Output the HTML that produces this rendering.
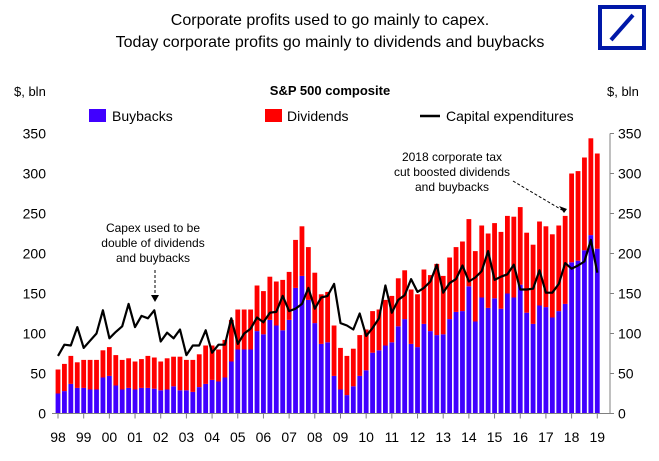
<!DOCTYPE html>
<html><head><meta charset="utf-8"><style>
body{margin:0;background:#fff;}
svg text{font-family:"Liberation Sans",Arial,sans-serif;}
</style></head><body>
<svg id="chart" width="659" height="456" viewBox="0 0 659 456" xmlns="http://www.w3.org/2000/svg">
<text x="330" y="25" font-size="16" text-anchor="middle">Corporate profits used to go mainly to capex.</text>
<text x="330" y="47" font-size="16" text-anchor="middle">Today corporate profits go mainly to dividends and buybacks</text>
<g>
<rect x="600" y="7" width="44" height="41" fill="none" stroke="#0018a8" stroke-width="4"/>
<line x1="611" y1="40" x2="633" y2="15" stroke="#0018a8" stroke-width="4"/>
</g>
<text x="14" y="96" font-size="13">$, bln</text>
<text x="607" y="96" font-size="13">$, bln</text>
<text x="330" y="95" font-size="13" font-weight="bold" text-anchor="middle">S&amp;P 500 composite</text>
<g>
<g><rect x="89" y="109" width="17" height="13" fill="#4000ff"/><text x="112" y="121" font-size="14">Buybacks</text></g>
<g><rect x="265" y="109" width="17" height="13" fill="#ff0000"/><text x="287" y="121" font-size="14">Dividends</text></g>
<g><line x1="420" y1="116" x2="440" y2="116" stroke="#000" stroke-width="2.5"/><text x="446" y="121" font-size="14">Capital expenditures</text></g>
</g>
<g id="plot"></g>
<g font-size="12" text-anchor="middle">
<text x="153" y="232">Capex used to be</text>
<text x="153" y="247">double of dividends</text>
<text x="153" y="262">and buybacks</text>
<line x1="155" y1="270" x2="155" y2="296" stroke="#000" stroke-dasharray="3,2"/>
<polygon points="151,295 159,295 155,302" fill="#000"/>
</g>
<g font-size="12" text-anchor="middle">
<text x="452" y="161">2018 corporate tax</text>
<text x="452" y="176">cut boosted dividends</text>
<text x="452" y="191">and buybacks</text>
<line x1="513" y1="181" x2="562" y2="210" stroke="#000" stroke-dasharray="3,2"/>
<polygon points="559,206 564,213 567,209" fill="#000"/>
</g>
</svg>
<script>
const years = ["98","99","00","01","02","03","04","05","06","07","08","09","10","11","12","13","14","15","16","17","18","19"];
const yTicks = [0,50,100,150,200,250,300,350];
const buybacks = [25,28,37,32, 32,30,30,45, 47,35,30,32, 30,32,32,31, 29,30,34,29, 29,27,33,37, 42,40,45,65, 80,80,80,103, 99,117,110,104, 117,157,172,142, 113,87,89,47, 30,23,34,47, 54,76,79,85, 89,109,118,87, 83,112,103,98, 99,118,127,128, 159,115,145,132, 144,131,150,145, 161,126,112,135, 133,120,128,137, 189,191,204,223, 206];
const dividends = [30,34,35,32, 35,37,37,34, 36,38,37,37, 35,36,40,39, 36,39,37,42, 38,40,41,48, 43,40,47,52, 50,50,50,57, 54,54,55,63, 60,60,62,66, 63,62,63,63, 52,49,47,51, 51,52,51,57, 58,60,61,68, 66,68,70,89, 73,77,81,87, 84,88,90,93, 94,96,97,101, 97,100,99,105, 101,104,107,110, 111,112,116,121, 119];
const capex = [72,86,85,108, 82,91,100,129, 94,102,109,137, 108,122,119,129, 90,101,94,105, 73,85,85,104, 76,86,86,119, 87,100,106,120, 114,126,127,147, 128,131,137,157, 131,145,147,162, 113,110,105,125, 97,107,119,160, 126,142,148,168, 152,157,165,186, 151,163,168,185, 165,170,178,203, 167,171,174,186, 155,155,156,179, 151,151,162,188, 181,185,190,217, 176];

const NS="http://www.w3.org/2000/svg";
const plot=document.getElementById('plot');
const x0=58, step=6.42, y0=413.5, k=0.8, bw=4.8, left=52, right=610;
const X=i=>x0+i*step;
const Y=v=>y0-v*k;
function mk(tag,attrs){const e=document.createElementNS(NS,tag);for(const a in attrs)e.setAttribute(a,attrs[a]);plot.appendChild(e);return e;}

yTicks.forEach(t=>{
  const l=mk('text',{x:46,y:Y(t)+5,'font-size':14,'text-anchor':'end'});l.textContent=t;
  
  
  const r=mk('text',{x:618,y:Y(t)+5,'font-size':14});r.textContent=t;
  
  
  const tk=mk('line',{x1:right,x2:right+4,y1:Y(t),y2:Y(t),stroke:'#808080'});
  
  
});
const ra=mk('line',{x1:right,x2:right,y1:Y(350),y2:y0,stroke:'#808080'});



buybacks.forEach((b,i)=>{
  const r=mk('rect',{x:X(i)-bw/2,y:Y(b),width:bw,height:y0-Y(b),fill:'#4000ff'});
  
  
  const d=dividends[i];
  const r2=mk('rect',{x:X(i)-bw/2,y:Y(b+d),width:bw,height:Y(b)-Y(b+d),fill:'#ff0000'});
  
  
});
const pts=capex.map((c,i)=>X(i).toFixed(1)+','+Y(c).toFixed(1)).join(' ');
const pl=mk('polyline',{points:pts,fill:'none',stroke:'#000','stroke-width':2.2,'stroke-linejoin':'round'});



const xa=mk('line',{x1:left,x2:right,y1:y0,y2:y0,stroke:'#808080'});


years.forEach((yr,j)=>{
  const xx=X(j*4);
  const tk=mk('line',{x1:xx,x2:xx,y1:y0,y2:y0+5,stroke:'#808080'});
  
  
  const t=mk('text',{x:xx,y:442,'font-size':14,'text-anchor':'middle'});t.textContent=yr;
  
  
});
</script>
</body></html>
